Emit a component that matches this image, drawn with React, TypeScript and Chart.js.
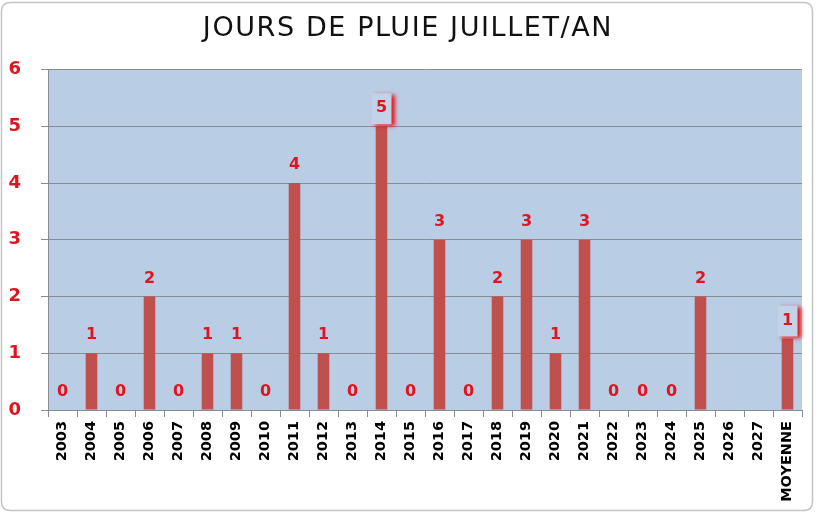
import React, { useEffect, useRef } from "react";
import { Chart, registerables } from "chart.js";

Chart.register(...registerables);

const TITLE = "JOURS DE PLUIE JUILLET/AN";
const categories = [
  "2003", "2004", "2005", "2006", "2007", "2008", "2009", "2010", "2011", "2012",
  "2013", "2014", "2015", "2016", "2017", "2018", "2019", "2020", "2021", "2022",
  "2023", "2024", "2025", "2026", "2027", "MOYENNE",
];
const rainDays: (number | null)[] = [
  0, 1, 0, 2, 0, 1, 1, 0, 4, 1,
  0, 5, 0, 3, 0, 2, 3, 1, 3, 0,
  0, 0, 2, null, null, 1.26,
];
const yTicks = [0, 1, 2, 3, 4, 5, 6];
const calloutIndexes = [11, 25];

const PLOT_BG = "#B9CDE5";
const BAR = "#C0504D";
const LABEL_RED = "#E0141E";
const GRID = "#878C95";

export default function App() {
  const ref = useRef<HTMLCanvasElement | null>(null);

  useEffect(() => {
    if (!ref.current) return;

    const framePlugin = {
      id: "frameAndBg",
      beforeDraw(chart: any) {
        const { ctx, chartArea } = chart;
        ctx.save();
        ctx.fillStyle = "#ffffff";
        ctx.fillRect(0, 0, chart.width, chart.height);
        const x = 1.5, y = 2.5, w = 811, h = 508, r = 9;
        ctx.beginPath();
        ctx.moveTo(x + r, y);
        ctx.lineTo(x + w - r, y);
        ctx.quadraticCurveTo(x + w, y, x + w, y + r);
        ctx.lineTo(x + w, y + h - r);
        ctx.quadraticCurveTo(x + w, y + h, x + w - r, y + h);
        ctx.lineTo(x + r, y + h);
        ctx.quadraticCurveTo(x, y + h, x, y + h - r);
        ctx.lineTo(x, y + r);
        ctx.quadraticCurveTo(x, y, x + r, y);
        ctx.closePath();
        ctx.strokeStyle = "#C4C4C4";
        ctx.lineWidth = 1.5;
        ctx.stroke();
        ctx.fillStyle = PLOT_BG;
        ctx.fillRect(chartArea.left, chartArea.top, chartArea.right - chartArea.left, chartArea.bottom - chartArea.top);
        ctx.fillStyle = "#111111";
        ctx.font = "normal 27px 'DejaVu Sans'";
        (ctx as any).letterSpacing = "1.6px";
        ctx.textAlign = "left";
        ctx.textBaseline = "middle";
        const tw = Math.min(ctx.measureText(TITLE).width, 412);
        ctx.fillText(TITLE, 408 - tw / 2, 29, 412);
        (ctx as any).letterSpacing = "0px";
        ctx.restore();
      },
    };

    const labelPlugin = {
      id: "valueLabels",
      afterDatasetsDraw(chart: any) {
        const { ctx } = chart;
        const meta = chart.getDatasetMeta(0);
        ctx.save();
        meta.data.forEach((el: any, i: number) => {
          const v = rainDays[i];
          if (v === null || v === undefined) return;
          const cx = el.x;
          const cy = el.y - 18;
          if (calloutIndexes.includes(i)) {
            ctx.save();
            ctx.shadowColor = "rgba(240,0,0,0.9)";
            ctx.shadowBlur = 4;
            ctx.shadowOffsetX = 3;
            ctx.shadowOffsetY = 2;
            ctx.fillStyle = "#C2D2E8";
            ctx.fillRect(cx - 10, el.y - 33, 20, 31);
            ctx.restore();
          }
          ctx.fillStyle = LABEL_RED;
          ctx.font = "bold 16px 'DejaVu Sans'";
          ctx.textAlign = "center";
          ctx.textBaseline = "middle";
          ctx.fillText(Math.round(v).toFixed(0), cx, cy);
        });
        ctx.restore();
      },
    };

    const chart = new Chart(ref.current, {
      type: "bar",
      data: {
        labels: categories,
        datasets: [
          {
            data: rainDays as any,
            backgroundColor: BAR,
            borderWidth: 0,
            barPercentage: 0.4,
            categoryPercentage: 1,
          },
        ],
      },
      options: {
        responsive: false,
        animation: false,
        layout: { padding: { left: 0, right: 18, top: 69.5, bottom: 0 } },
        plugins: {
          legend: { display: false },
          title: { display: false },
          tooltip: { enabled: false },
        },
        scales: {
          x: {
            grid: {
              offset: true,
              drawOnChartArea: false,
              color: GRID,
              tickLength: 7,
            },
            border: { display: true, color: GRID },
            ticks: {
              autoSkip: false,
              minRotation: 90,
              maxRotation: 90,
              color: "#000000",
              font: { family: "'DejaVu Sans'", weight: "bold", size: 14.5 },
              padding: 4,
            },
            afterFit(scale: any) {
              scale.height = 105;
            },
          },
          y: {
            min: 0,
            max: 6,
            afterBuildTicks(scale: any) {
              scale.ticks = yTicks.map((v) => ({ value: v }));
            },
            grid: { color: GRID, tickLength: 7 },
            border: { display: true, color: GRID },
            ticks: {
              color: LABEL_RED,
              font: { family: "'DejaVu Sans'", weight: "bold", size: 18 },
              padding: 20,
            },
            afterFit(scale: any) {
              scale.width = 48;
            },
          },
        },
      },
      plugins: [framePlugin, labelPlugin],
    });

    return () => chart.destroy();
  }, []);

  return (
    <div style={{ position: "fixed", left: 0, top: 0, width: 820, height: 515, background: "#fff" }}>
      <canvas ref={ref} width={820} height={515} style={{ width: 820, height: 515, display: "block" }} />
    </div>
  );
}
